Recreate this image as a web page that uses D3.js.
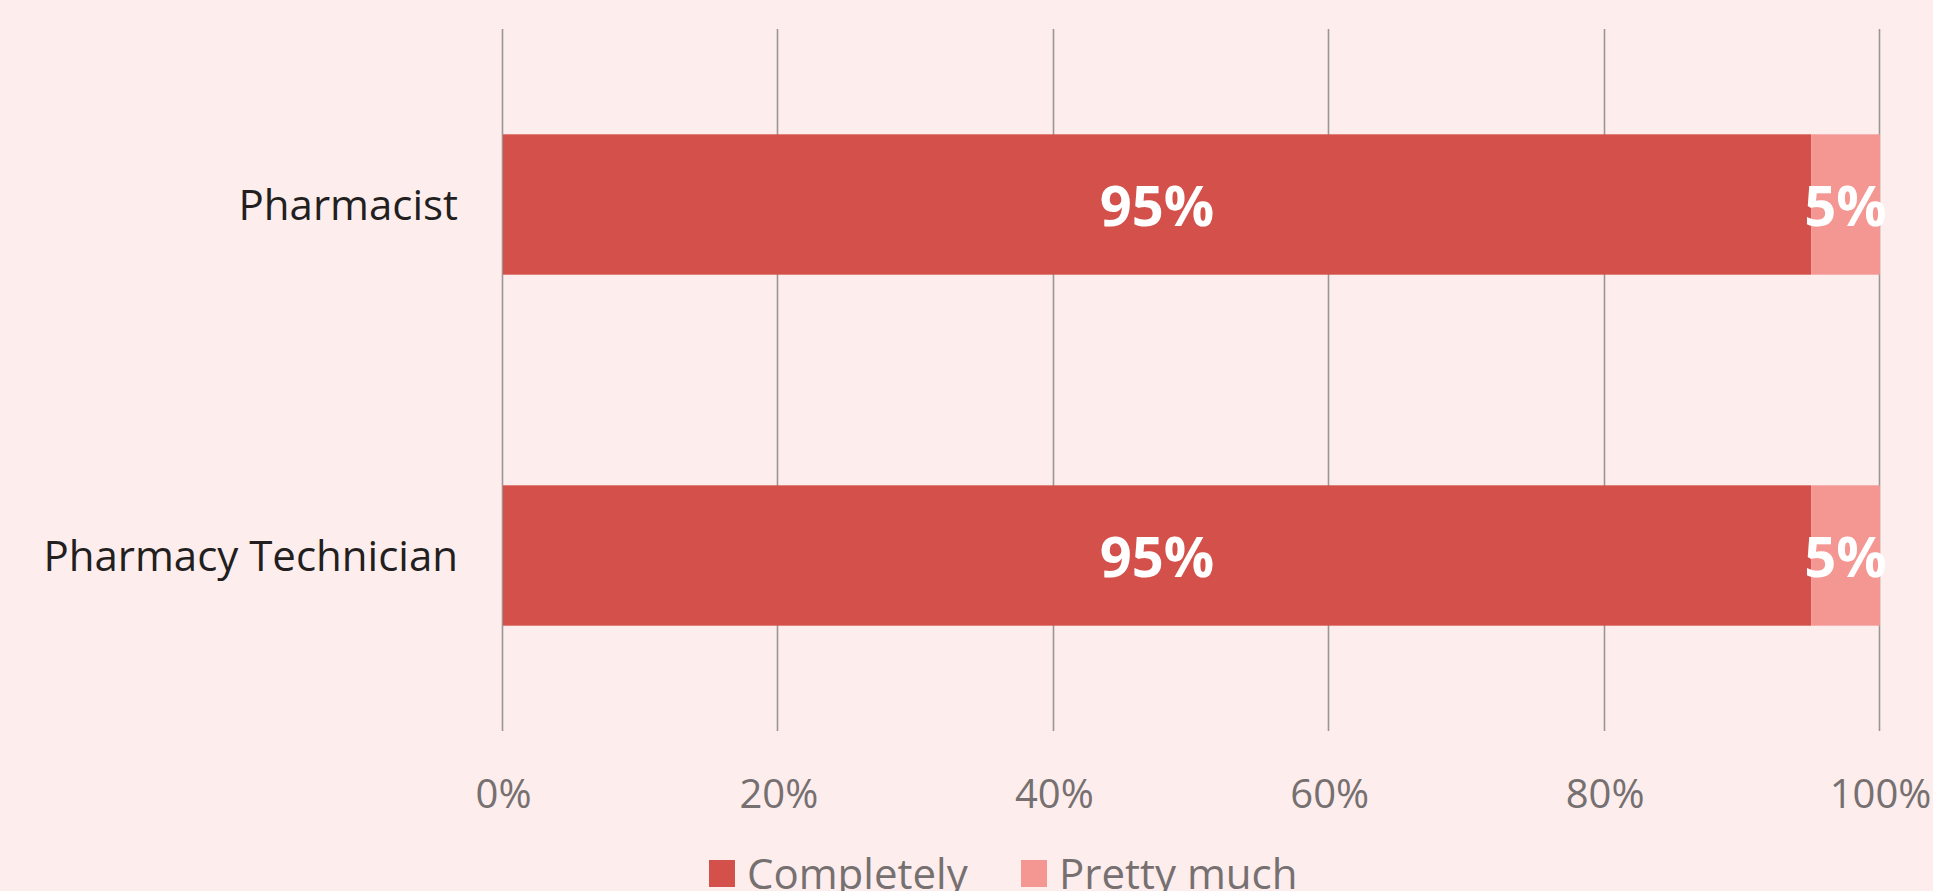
<!DOCTYPE html>
<html>
<head>
<meta charset="utf-8">
<script src="https://cdn.jsdelivr.net/npm/d3@7"></script>
<style>
    html, body { margin: 0; padding: 0; background: #fdeded; }
    svg { display: block; font-family: "Open Sans", sans-serif; }
</style>
</head>
<body>
<div id="chart"></div>
<script>
// values
var categories = ["Pharmacist", "Pharmacy Technician"];
var seriesNames = ["Completely", "Pretty much"];
var completely = [0.95, 0.95];
var prettyMuch = [0.05, 0.05];
var ticks = [0, 0.2, 0.4, 0.6, 0.8, 1];
var colors = ["#d4504a", "#f49793"];

var width = 1933, height = 891;
var mm = [29, 53, 160, 503]; //top right bottom left of the plot area

var svg = d3.select("#chart").append("svg")
    .attr("width", width)
    .attr("height", height);

svg.append("rect")
    .attr("width", width)
    .attr("height", height)
    .attr("fill", "#fdeded");

var x = d3.scaleLinear()
    .domain([0, 1])
    .range([mm[3], width - mm[1]]);

var y = d3.scaleBand()
    .domain(categories)
    .range([mm[0], height - mm[2]])
    .paddingInner(0.6)
    .paddingOuter(0.3);

//vertical gridlines
svg.append("g").selectAll("line")
    .data(ticks)
    .enter().append("line")
    .attr("x1", function(d) { return Math.round(x(d)) - 0.5; })
    .attr("x2", function(d) { return Math.round(x(d)) - 0.5; })
    .attr("y1", mm[0])
    .attr("y2", height - mm[2])
    .attr("stroke", "#9a9696")
    .attr("stroke-width", 1.6);

//x axis labels
var xAxis = d3.axisBottom(x)
    .tickValues(ticks)
    .tickSize(0)
    .tickPadding(0)
    .tickFormat(d3.format(".0%"));

var axisG = svg.append("g")
    .attr("transform", "translate(0," + (height - mm[2]) + ")")
    .call(xAxis);
axisG.select(".domain").remove();
axisG.selectAll("text")
    .attr("y", 77)
    .attr("dy", null)
    .attr("fill", "#767070")
    .style("font-size", "40px")
    .style("font-family", "'Open Sans', sans-serif");

//stacked data
var rows = categories.map(function(c, i) {
    return [
        {cat: c, s: 0, x0: 0, x1: completely[i], v: completely[i]},
        {cat: c, s: 1, x0: completely[i], x1: completely[i] + prettyMuch[i], v: prettyMuch[i]}
    ];
});
var segs = [].concat.apply([], rows);

svg.append("g").selectAll("rect")
    .data(segs)
    .enter().append("rect")
    .attr("x", function(d) { return x(d.x0); })
    .attr("y", function(d) { return y(d.cat); })
    .attr("width", function(d) { return x(d.x1) - x(d.x0); })
    .attr("height", y.bandwidth())
    .attr("fill", function(d) { return colors[d.s]; });

//value labels
svg.append("g").selectAll("text")
    .data(segs)
    .enter().append("text")
    .attr("x", function(d) { return (x(d.x0) + x(d.x1)) / 2; })
    .attr("y", function(d) { return y(d.cat) + y.bandwidth() / 2; })
    .attr("dy", "0.38em")
    .attr("text-anchor", "middle")
    .attr("fill", "#ffffff")
    .style("font-size", "56px")
    .style("font-weight", "bold")
    .text(function(d) { return d3.format(".0%")(d.v); });

//category labels
svg.append("g").selectAll("text")
    .data(categories)
    .enter().append("text")
    .attr("x", mm[3] - 45)
    .attr("y", function(d) { return y(d) + y.bandwidth() / 2; })
    .attr("dy", "0.36em")
    .attr("text-anchor", "end")
    .attr("fill", "#231f20")
    .style("font-size", "42px")
    .text(function(d) { return d; });

//legend
var legendX = [709, 1021];
var legend = svg.append("g").selectAll("g")
    .data(seriesNames)
    .enter().append("g")
    .attr("transform", function(d, i) { return "translate(" + legendX[i] + ",860)"; });

legend.append("rect")
    .attr("width", 26)
    .attr("height", 27)
    .attr("fill", function(d, i) { return colors[i]; });

legend.append("text")
    .attr("x", 38)
    .attr("y", 29)
    .attr("fill", "#767070")
    .style("font-size", "42px")
    .text(function(d) { return d; });
</script>
</body>
</html>
